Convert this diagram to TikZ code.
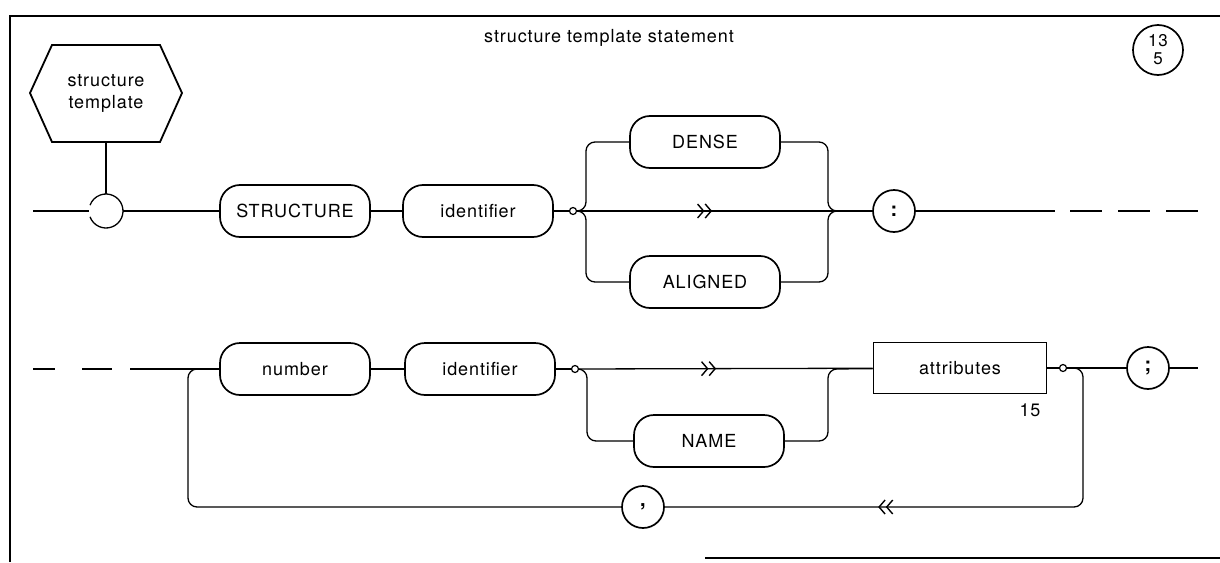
\documentclass[tikz,border=0pt]{standalone}
\usepackage{fontspec}
\setmainfont{TeX Gyre Heros}[LetterSpace=5]
\usetikzlibrary{arrows.meta,decorations.markings}
\begin{document}
\begin{tikzpicture}[x=1pt,y=-1pt,
  line width=1.3pt,
  every node/.style={font=\fontsize{18}{22}\selectfont, inner sep=0pt},
  term/.style={draw, line width=1.7pt, rounded corners=20pt, minimum width=150pt, minimum height=52pt},
  nonterm/.style={draw, line width=1.7pt, minimum width=173pt, minimum height=51pt},
  symb/.style={draw, line width=1.7pt, circle, minimum size=42pt, font=\bfseries\fontsize{20}{22}\selectfont},
  jun/.style={draw, circle, line width=1.2pt, minimum size=7pt, fill=white},
  arrowat/.style={postaction={decorate,decoration={markings,mark=at position #1 with {\arrow{Straight Barb[length=6pt,width=14pt,line width=1.4pt]Straight Barb[length=6pt,width=14pt,line width=1.4pt]}}}}},
  branch/.style={rounded corners=9pt},
  frame/.style={line width=1.8pt}
]
\useasboundingbox (0,0) rectangle (1220,562);

% frame
\draw[frame] (10,562) -- (10,16) -- (1220,16);
\draw[frame] (705,558) -- (1220,558);

% heading and page reference
\node (title) at (609,38) {structure template statement};
\node[symb, minimum size=50pt, align=center, font=\fontsize{17}{18}\selectfont] (page) at (1158,50) {13\\5};

% production name
\node[align=center] (hex) at (106,93) {structure\\template};
\draw[frame] (30,93) -- (52,45) -- (160,45) -- (182,93) -- (160,142) -- (52,142) -- cycle;
\coordinate (hexb) at (106,142);
\coordinate (st) at (106,211);
\coordinate (sttop) at (106,194);
\coordinate (stw) at (89,211);
\coordinate (ste) at (123,211);
\coordinate (in1) at (33,211);
\draw (st) ++(160:17) arc[start angle=160, end angle=-160, radius=17];
\draw (hexb) -- (sttop);
\draw (in1) -- (stw);

% first line
\node[term] (structure) at (295,211) {STRUCTURE};
\node[term] (ident1) at (478,211) {identifier};
\node[jun] (j1) at (573,211) {};
\node[term] (dense) at (705,142) {DENSE};
\node[term] (aligned) at (705,282) {ALIGNED};
\node[symb] (colon) at (894,211) {:};
\draw (ste) -- (structure);
\draw (structure) -- (ident1);
\draw (ident1) -- (j1);
\draw[arrowat=135pt] (j1) -- (colon);
\draw[branch] (j1.east) -- (586,211) -- (586,142) -- (dense);
\draw[branch] (j1.east) -- (586,211) -- (586,282) -- (aligned);
\draw[branch] (dense) -- (828,142) -- (828,211) -- (colon);
\draw[branch] (aligned) -- (828,282) -- (828,211) -- (colon);
\coordinate (r1a) at (1055,211);
\coordinate (r1b) at (1070,211);
\coordinate (r1c) at (1198,211);
\draw (colon) -- (r1a);
\draw[dash pattern=on 32pt off 16pt] (r1b) -- (r1c);

% second line
\coordinate (in2) at (33,369);
\node[term] (number) at (295,369) {number};
\node[term] (ident2) at (480,369) {identifier};
\node[jun] (j2) at (575,369) {};
\node[term] (name) at (709,441) {NAME};
\node[nonterm] (attr) at (960,368) {attributes};
\node (ref15) at (1030,410) {15};
\node[jun] (j3) at (1063,368) {};
\node[symb] (semi) at (1148,368) {;};
\node[symb] (comma) at (643,507) {,};
\coordinate (r2end) at (1198,368);
\draw[dash pattern=on 22pt off 27pt on 30pt off 18pt on 300pt] (in2) -- (number);
\draw (number) -- (ident2);
\draw (ident2) -- (j2);
\draw[arrowat=137pt] (j2) -- (attr);
\draw[branch] (j2.east) -- (587,369) -- (587,441) -- (name);
\draw[branch] (name) -- (828,441) -- (828,369) -- (attr);
\draw (attr) -- (j3);
\draw (j3) -- (semi);
\draw (semi) -- (r2end);

% repetition loop
\draw[branch, arrowat=352pt] (j3.east) -- (1083,368) -- (1083,507) -- (comma);
\draw[branch] (comma) -- (188,507) -- (188,369) -- (number);
\end{tikzpicture}
\end{document}
